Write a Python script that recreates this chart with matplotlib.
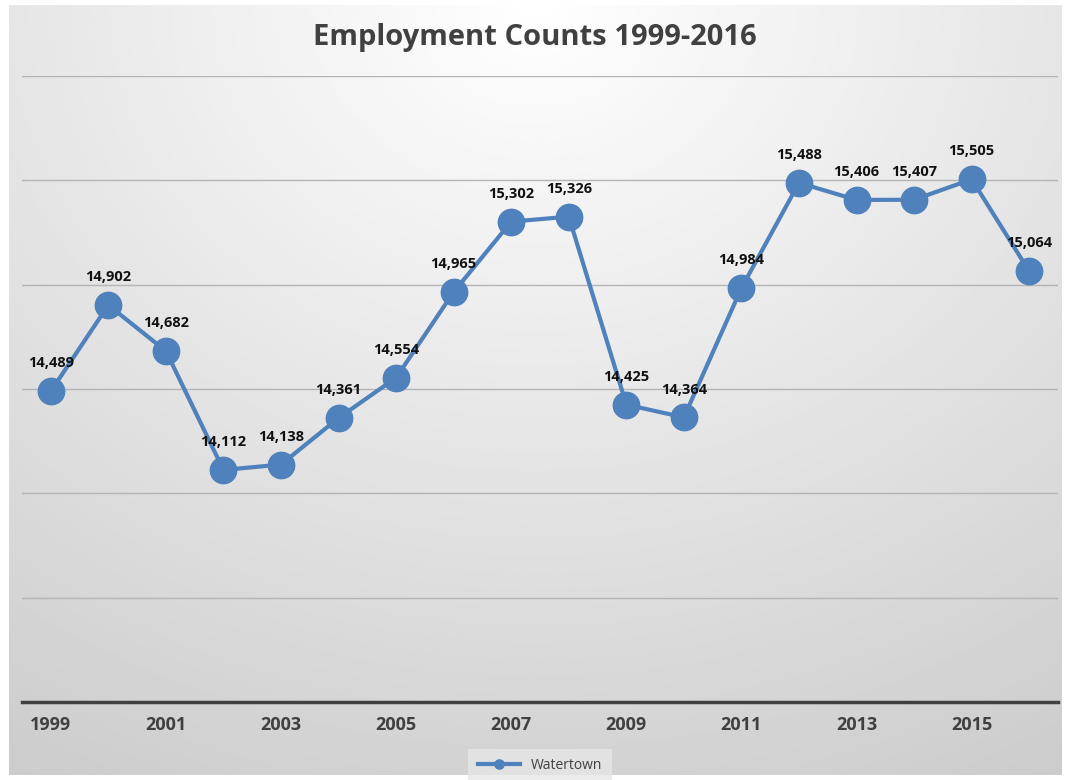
import numpy as np
import matplotlib.pyplot as plt

plt.rcParams['font.family'] = ['Liberation Sans Narrow', 'Open Sans', 'DejaVu Sans']

years = list(range(1999, 2017))
counts = [14489, 14902, 14682, 14112, 14138, 14361, 14554, 14965, 15302, 15326,
          14425, 14364, 14984, 15488, 15406, 15407, 15505, 15064]
tick_years = [1999, 2001, 2003, 2005, 2007, 2009, 2011, 2013, 2015]

fig = plt.figure(figsize=(10.69, 7.8), dpi=100)

# gradient background
bg = fig.add_axes([0.008, 0.006, 0.985, 0.988])
yy, xx = np.mgrid[0:1:300j, 0:1:300j]
r = np.sqrt(((xx - 0.5) * 1.1) ** 2 + (yy * 0.95) ** 2)
shade = 1.0 - 0.22 * np.clip(r, 0, 1.2) / 1.2
bg.imshow(shade, cmap='gray', vmin=0, vmax=1, extent=[0, 1, 1, 0], aspect='auto')
bg.axis('off')

ax = fig.add_axes([22 / 1069, 1 - 702 / 780, 1036 / 1069, 626 / 780])
ax.patch.set_alpha(0)
x = np.arange(len(years))
ax.plot(x, counts, color='#4F81BD', lw=3, marker='o', ms=19, label='Watertown', zorder=3)
for xi, v in zip(x, counts):
    ax.annotate(f'{v:,}', (xi, v), xytext=(0, 15), textcoords='offset points',
                ha='center', va='bottom', fontsize=10.5, fontweight='bold', color='#111111')

ax.set_xlim(-0.5, len(years) - 0.5)
ax.set_ylim(13000, 16000)
ax.set_yticks(np.arange(13000, 16001, 500))
ax.set_yticklabels([])
ax.tick_params(axis='y', length=0)
ax.grid(axis='y', color='#b4b4b4', lw=1)
ax.set_axisbelow(True)
ax.set_xticks([years.index(y) for y in tick_years])
ax.set_xticklabels([str(y) for y in tick_years], fontsize=13, fontweight='bold', color='#404040')
ax.tick_params(axis='x', length=0, pad=10)
for s in ['top', 'right', 'left']:
    ax.spines[s].set_visible(False)
ax.spines['bottom'].set_color('#404040')
ax.spines['bottom'].set_linewidth(2.5)

leg = ax.legend(loc='upper center', bbox_to_anchor=(0.5, -0.07), frameon=True,
                fontsize=10, markerscale=0.35, handlelength=3)
leg.get_frame().set_facecolor('#e6e6e6')
leg.get_frame().set_edgecolor('none')
leg.get_frame().set_boxstyle('square')
for t in leg.get_texts():
    t.set_color('#404040')

fig.text(0.5, 1 - 38 / 780, 'Employment Counts 1999-2016', ha='center', va='center',
         fontsize=21, fontweight='bold', color='#404040')

fig.savefig('out.png', dpi=100)
